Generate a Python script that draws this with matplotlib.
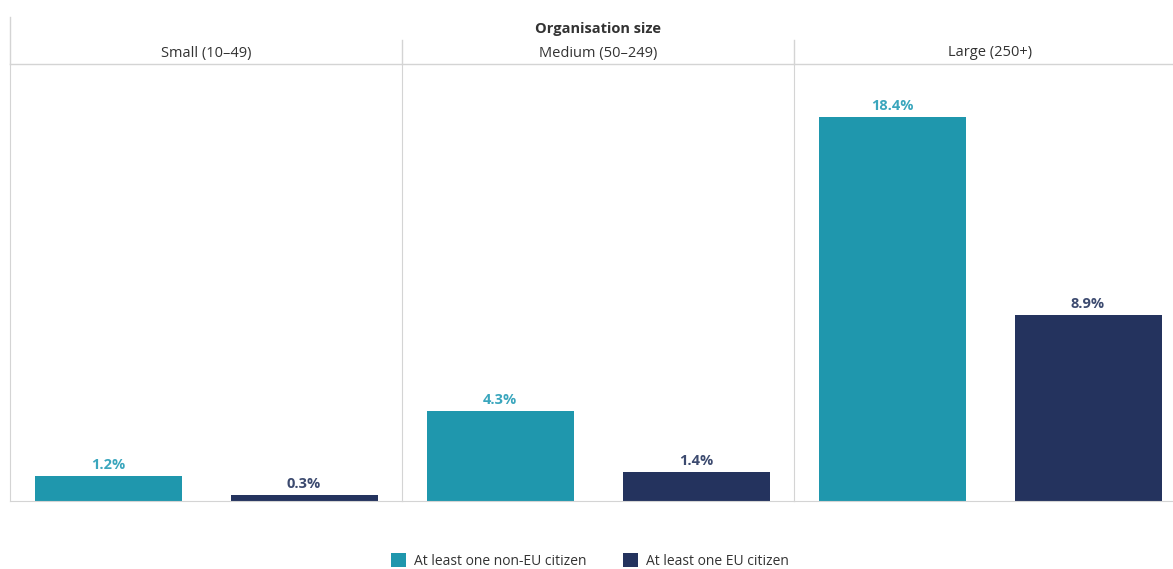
import matplotlib.pyplot as plt
from matplotlib.lines import Line2D
from matplotlib.patches import Patch

plt.rcParams['font.family'] = ['Open Sans', 'DejaVu Sans']

sizes = ['Small (10\u201349)', 'Medium (50\u2013249)', 'Large (250+)']
series = ['At least one non-EU citizen', 'At least one EU citizen']
non_eu = [1.2, 4.3, 18.4]
eu = [0.3, 1.4, 8.9]

bar_colors = ['#1f97ad', '#24335e']
label_colors = ['#3aa6bd', '#3c4a6f']
grid_col = '#d4d4d4'
text_col = '#333333'

W, H = 1173, 569
fig = plt.figure(figsize=(W / 100, H / 100), dpi=100)

left, top, base = 10, 64, 501
pw = 392
for i, s in enumerate(sizes):
    ax = fig.add_axes([(left + i * pw) / W, (H - base) / H, pw / W, (base - top) / H])
    vals = [non_eu[i], eu[i]]
    ax.bar([0, 1], vals, width=0.75, color=bar_colors)
    for x, v, c in zip([0, 1], vals, label_colors):
        ax.annotate(f'{v}%', (x, v), xytext=(0, 3), textcoords='offset points',
                    ha='center', va='bottom', color=c, fontsize=10.5, fontweight='bold')
    ax.set_xlim(-0.5, 1.5)
    ax.set_ylim(0, 20.94)
    ax.set_xticks([])
    ax.set_yticks([])
    for sp in ['top', 'right']:
        ax.spines[sp].set_visible(False)
    ax.spines['left'].set_color(grid_col)
    ax.spines['bottom'].set_color(grid_col)
    # panel header
    fig.text((left + (i + 0.5) * pw) / W, 1 - 53 / H, s, ha='center', va='center',
             fontsize=10.5, color=text_col)
    # vertical divider in header
    ytop = 17 if i == 0 else 40
    fig.add_artist(Line2D([(left + i * pw) / W] * 2, [1 - ytop / H, 1 - top / H],
                          color=grid_col, lw=1))

# header horizontal line
fig.add_artist(Line2D([left / W, 1], [1 - top / H] * 2, color=grid_col, lw=1))
fig.text((left + 1.5 * pw) / W, 1 - 29 / H, 'Organisation size', ha='center', va='center',
         fontsize=10.5, fontweight='bold', color=text_col)

handles = [Patch(facecolor=c, label=l) for c, l in zip(bar_colors, series)]
fig.legend(handles=handles, loc='center', bbox_to_anchor=(590 / W, 1 - 561 / H), ncol=2,
           frameon=False, fontsize=10, handlelength=1.1, handleheight=1.1,
           columnspacing=2.6, handletextpad=0.6, labelcolor=text_col)

fig.savefig('out.png', dpi=100)
